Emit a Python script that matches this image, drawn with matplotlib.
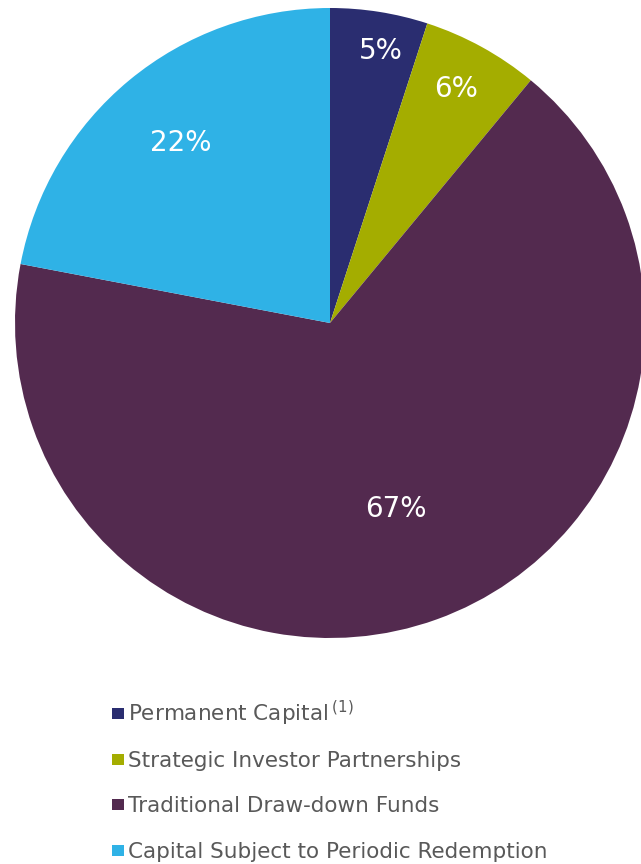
import matplotlib.pyplot as plt
from matplotlib.patches import Rectangle

plt.rcParams['font.family'] = ['DejaVu Sans']
plt.rcParams['mathtext.fontset'] = 'dejavusans'

# data
categories = ['Permanent Capital$\\,^{(1)}$', 'Strategic Investor Partnerships',
              'Traditional Draw-down Funds', 'Capital Subject to Periodic Redemption']
shares = [5, 6, 67, 22]
colors = ['#2a2d70', '#a4ad00', '#532a4f', '#2fb2e6']

# label positions in pie units (radius 1)
label_pos = [(0.162, 0.862), (0.40, 0.743), (0.21, -0.59), (-0.473, 0.571)]

W, H = 641, 864
fig = plt.figure(figsize=(W / 100, H / 100), dpi=100)
ax = fig.add_axes([15 / W, 226 / H, 630 / W, 630 / H])

wedges, _ = ax.pie(shares, colors=colors, startangle=90, counterclock=False,
                   radius=1, wedgeprops=dict(linewidth=0))
ax.set_xlim(-1, 1)
ax.set_ylim(-1, 1)
ax.set_aspect('equal')
ax.axis('off')

for (x, y), v in zip(label_pos, shares):
    ax.text(x, y, f'{v}%', ha='center', va='center', color='white', fontsize=20)

# legend drawn by hand so the row pitch matches
for i, (lab, c) in enumerate(zip(categories, colors)):
    base = 721 + i * 45.7  # baseline in pixels from top
    fig.patches.append(Rectangle((112 / W, 1 - (base - 2) / H), 12 / W, 11 / H,
                                 transform=fig.transFigure, facecolor=c,
                                 edgecolor='none'))
    fig.text(128 / W, 1 - base / H, lab, ha='left', va='baseline',
             fontsize=15.5, color='#595959')

fig.savefig('out.png', dpi=100)
